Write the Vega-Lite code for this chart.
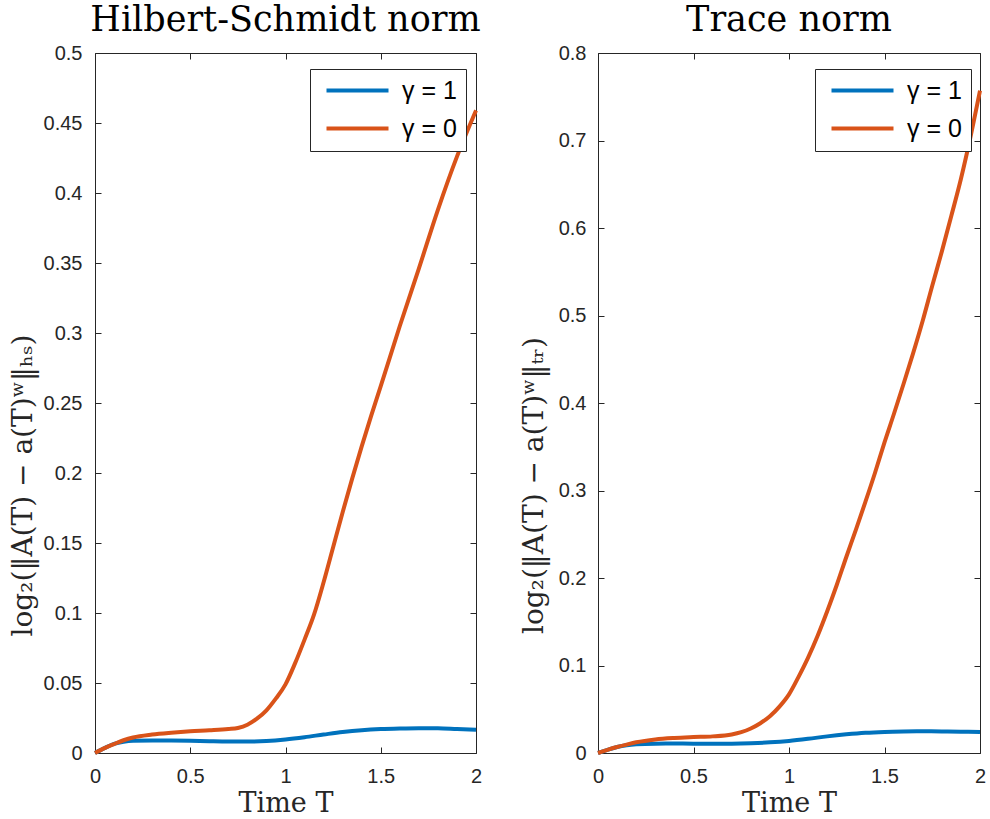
{
  "$schema": "https://vega.github.io/schema/vega-lite/v6.json",
  "background": "white",
  "padding": {"left": 8, "top": 2, "right": 5, "bottom": 2},
  "bounds": "flush",
  "spacing": 122,
  "datasets": {
    "curves": [
      {"p": "HS", "g": "γ = 1", "T": 0, "v": 0},
      {"p": "HS", "g": "γ = 1", "T": 0.05, "v": 0.0035},
      {"p": "HS", "g": "γ = 1", "T": 0.1, "v": 0.0065},
      {"p": "HS", "g": "γ = 1", "T": 0.15, "v": 0.0081},
      {"p": "HS", "g": "γ = 1", "T": 0.2, "v": 0.0088},
      {"p": "HS", "g": "γ = 1", "T": 0.3, "v": 0.009},
      {"p": "HS", "g": "γ = 1", "T": 0.4, "v": 0.0089},
      {"p": "HS", "g": "γ = 1", "T": 0.5, "v": 0.0087},
      {"p": "HS", "g": "γ = 1", "T": 0.6, "v": 0.0084},
      {"p": "HS", "g": "γ = 1", "T": 0.7, "v": 0.0082},
      {"p": "HS", "g": "γ = 1", "T": 0.8, "v": 0.0082},
      {"p": "HS", "g": "γ = 1", "T": 0.9, "v": 0.0086},
      {"p": "HS", "g": "γ = 1", "T": 1.0, "v": 0.0097},
      {"p": "HS", "g": "γ = 1", "T": 1.1, "v": 0.0113},
      {"p": "HS", "g": "γ = 1", "T": 1.2, "v": 0.0132},
      {"p": "HS", "g": "γ = 1", "T": 1.3, "v": 0.015},
      {"p": "HS", "g": "γ = 1", "T": 1.4, "v": 0.0163},
      {"p": "HS", "g": "γ = 1", "T": 1.5, "v": 0.0171},
      {"p": "HS", "g": "γ = 1", "T": 1.6, "v": 0.0175},
      {"p": "HS", "g": "γ = 1", "T": 1.7, "v": 0.0177},
      {"p": "HS", "g": "γ = 1", "T": 1.8, "v": 0.0176},
      {"p": "HS", "g": "γ = 1", "T": 1.9, "v": 0.0171},
      {"p": "HS", "g": "γ = 1", "T": 2.0, "v": 0.0166},
      {"p": "HS", "g": "γ = 0", "T": 0, "v": 0},
      {"p": "HS", "g": "γ = 0", "T": 0.05, "v": 0.0035},
      {"p": "HS", "g": "γ = 0", "T": 0.1, "v": 0.0064},
      {"p": "HS", "g": "γ = 0", "T": 0.15, "v": 0.0091},
      {"p": "HS", "g": "γ = 0", "T": 0.2, "v": 0.0111},
      {"p": "HS", "g": "γ = 0", "T": 0.3, "v": 0.0132},
      {"p": "HS", "g": "γ = 0", "T": 0.4, "v": 0.0145},
      {"p": "HS", "g": "γ = 0", "T": 0.5, "v": 0.0155},
      {"p": "HS", "g": "γ = 0", "T": 0.6, "v": 0.0162},
      {"p": "HS", "g": "γ = 0", "T": 0.7, "v": 0.0171},
      {"p": "HS", "g": "γ = 0", "T": 0.75, "v": 0.0179},
      {"p": "HS", "g": "γ = 0", "T": 0.8, "v": 0.0202},
      {"p": "HS", "g": "γ = 0", "T": 0.85, "v": 0.0245},
      {"p": "HS", "g": "γ = 0", "T": 0.9, "v": 0.0305},
      {"p": "HS", "g": "γ = 0", "T": 0.95, "v": 0.039},
      {"p": "HS", "g": "γ = 0", "T": 1.0, "v": 0.049},
      {"p": "HS", "g": "γ = 0", "T": 1.05, "v": 0.064},
      {"p": "HS", "g": "γ = 0", "T": 1.1, "v": 0.081},
      {"p": "HS", "g": "γ = 0", "T": 1.15, "v": 0.099},
      {"p": "HS", "g": "γ = 0", "T": 1.2, "v": 0.122},
      {"p": "HS", "g": "γ = 0", "T": 1.25, "v": 0.147},
      {"p": "HS", "g": "γ = 0", "T": 1.3, "v": 0.172},
      {"p": "HS", "g": "γ = 0", "T": 1.35, "v": 0.196},
      {"p": "HS", "g": "γ = 0", "T": 1.4, "v": 0.219},
      {"p": "HS", "g": "γ = 0", "T": 1.45, "v": 0.241},
      {"p": "HS", "g": "γ = 0", "T": 1.5, "v": 0.262},
      {"p": "HS", "g": "γ = 0", "T": 1.6, "v": 0.305},
      {"p": "HS", "g": "γ = 0", "T": 1.7, "v": 0.346},
      {"p": "HS", "g": "γ = 0", "T": 1.8, "v": 0.388},
      {"p": "HS", "g": "γ = 0", "T": 1.9, "v": 0.426},
      {"p": "HS", "g": "γ = 0", "T": 2.0, "v": 0.459},
      {"p": "tr", "g": "γ = 1", "T": 0, "v": 0},
      {"p": "tr", "g": "γ = 1", "T": 0.05, "v": 0.0036},
      {"p": "tr", "g": "γ = 1", "T": 0.1, "v": 0.0068},
      {"p": "tr", "g": "γ = 1", "T": 0.15, "v": 0.0089},
      {"p": "tr", "g": "γ = 1", "T": 0.2, "v": 0.01},
      {"p": "tr", "g": "γ = 1", "T": 0.3, "v": 0.0107},
      {"p": "tr", "g": "γ = 1", "T": 0.4, "v": 0.0108},
      {"p": "tr", "g": "γ = 1", "T": 0.5, "v": 0.0107},
      {"p": "tr", "g": "γ = 1", "T": 0.6, "v": 0.0106},
      {"p": "tr", "g": "γ = 1", "T": 0.7, "v": 0.0107},
      {"p": "tr", "g": "γ = 1", "T": 0.8, "v": 0.0112},
      {"p": "tr", "g": "γ = 1", "T": 0.9, "v": 0.0122},
      {"p": "tr", "g": "γ = 1", "T": 1.0, "v": 0.0138},
      {"p": "tr", "g": "γ = 1", "T": 1.1, "v": 0.0162},
      {"p": "tr", "g": "γ = 1", "T": 1.2, "v": 0.019},
      {"p": "tr", "g": "γ = 1", "T": 1.3, "v": 0.0213},
      {"p": "tr", "g": "γ = 1", "T": 1.4, "v": 0.0231},
      {"p": "tr", "g": "γ = 1", "T": 1.5, "v": 0.0241},
      {"p": "tr", "g": "γ = 1", "T": 1.6, "v": 0.0246},
      {"p": "tr", "g": "γ = 1", "T": 1.7, "v": 0.0248},
      {"p": "tr", "g": "γ = 1", "T": 1.8, "v": 0.0247},
      {"p": "tr", "g": "γ = 1", "T": 1.9, "v": 0.0244},
      {"p": "tr", "g": "γ = 1", "T": 2.0, "v": 0.024},
      {"p": "tr", "g": "γ = 0", "T": 0, "v": 0},
      {"p": "tr", "g": "γ = 0", "T": 0.05, "v": 0.0036},
      {"p": "tr", "g": "γ = 0", "T": 0.1, "v": 0.0068},
      {"p": "tr", "g": "γ = 0", "T": 0.15, "v": 0.0096},
      {"p": "tr", "g": "γ = 0", "T": 0.2, "v": 0.0122},
      {"p": "tr", "g": "γ = 0", "T": 0.3, "v": 0.0155},
      {"p": "tr", "g": "γ = 0", "T": 0.4, "v": 0.0172},
      {"p": "tr", "g": "γ = 0", "T": 0.5, "v": 0.0182},
      {"p": "tr", "g": "γ = 0", "T": 0.6, "v": 0.019},
      {"p": "tr", "g": "γ = 0", "T": 0.7, "v": 0.0212},
      {"p": "tr", "g": "γ = 0", "T": 0.75, "v": 0.0238},
      {"p": "tr", "g": "γ = 0", "T": 0.8, "v": 0.028},
      {"p": "tr", "g": "γ = 0", "T": 0.85, "v": 0.034},
      {"p": "tr", "g": "γ = 0", "T": 0.9, "v": 0.042},
      {"p": "tr", "g": "γ = 0", "T": 0.95, "v": 0.053},
      {"p": "tr", "g": "γ = 0", "T": 1.0, "v": 0.067},
      {"p": "tr", "g": "γ = 0", "T": 1.05, "v": 0.087},
      {"p": "tr", "g": "γ = 0", "T": 1.1, "v": 0.109},
      {"p": "tr", "g": "γ = 0", "T": 1.15, "v": 0.134},
      {"p": "tr", "g": "γ = 0", "T": 1.2, "v": 0.162},
      {"p": "tr", "g": "γ = 0", "T": 1.25, "v": 0.192},
      {"p": "tr", "g": "γ = 0", "T": 1.3, "v": 0.224},
      {"p": "tr", "g": "γ = 0", "T": 1.35, "v": 0.255},
      {"p": "tr", "g": "γ = 0", "T": 1.4, "v": 0.287},
      {"p": "tr", "g": "γ = 0", "T": 1.45, "v": 0.32},
      {"p": "tr", "g": "γ = 0", "T": 1.5, "v": 0.355},
      {"p": "tr", "g": "γ = 0", "T": 1.55, "v": 0.388},
      {"p": "tr", "g": "γ = 0", "T": 1.6, "v": 0.422},
      {"p": "tr", "g": "γ = 0", "T": 1.65, "v": 0.457},
      {"p": "tr", "g": "γ = 0", "T": 1.7, "v": 0.494},
      {"p": "tr", "g": "γ = 0", "T": 1.75, "v": 0.534},
      {"p": "tr", "g": "γ = 0", "T": 1.8, "v": 0.573},
      {"p": "tr", "g": "γ = 0", "T": 1.85, "v": 0.614},
      {"p": "tr", "g": "γ = 0", "T": 1.9, "v": 0.656},
      {"p": "tr", "g": "γ = 0", "T": 1.95, "v": 0.704},
      {"p": "tr", "g": "γ = 0", "T": 2.0, "v": 0.757}
    ]
  },
  "config": {
    "view": {"stroke": "#262626", "strokeWidth": 1},
    "axis": {
      "grid": false,
      "domain": false,
      "labelFont": "Liberation Sans",
      "labelFontSize": 20,
      "labelColor": "#262626",
      "labelFlush": false,
      "tickColor": "#262626",
      "tickSize": -6,
      "titleFont": "DejaVu Serif",
      "titleFontWeight": "normal",
      "titleColor": "#262626"
    },
    "title": {"font": "DejaVu Serif", "fontSize": 35, "fontWeight": "normal", "color": "black", "anchor": "middle", "offset": 5},
    "legend": {
      "orient": "none",
      "title": null,
      "strokeColor": "#262626",
      "fillColor": "white",
      "padding": 9,
      "rowPadding": 12,
      "symbolType": "M-1,0H11.4",
      "symbolSize": 100,
      "symbolStrokeWidth": 4,
      "labelOffset": 58,
      "labelFont": "Liberation Sans",
      "labelFontSize": 25,
      "labelColor": "black",
      "labelLimit": 200
    }
  },
  "resolve": {"scale": {"color": "independent"}, "legend": {"color": "independent"}},
  "hconcat": [
    {
      "title": "Hilbert-Schmidt norm",
      "width": 381,
      "height": 700,
      "data": {"name": "curves"},
      "transform": [{"filter": "datum.p === 'HS'"}],
      "resolve": {"axis": {"x": "independent", "y": "independent"}},
      "layer": [
        {
          "mark": {"type": "line", "strokeWidth": 4, "interpolate": "monotone"},
          "encoding": {
            "x": {"field": "T", "type": "quantitative", "scale": {"domain": [0, 2], "nice": false, "zero": false},
                  "axis": {"orient": "bottom", "values": [0, 0.5, 1, 1.5, 2], "format": "~g", "labelPadding": 19, "title": "Time T", "titleFontSize": 27, "titlePadding": 4}},
            "y": {"field": "v", "type": "quantitative", "scale": {"domain": [0, 0.5], "nice": false},
                  "axis": {"orient": "left", "values": [0, 0.05, 0.1, 0.15, 0.2, 0.25, 0.3, 0.35, 0.4, 0.45, 0.5], "format": "~g", "labelPadding": 19, "title": "log₂(‖A(T) − a(T)ʷ‖ₕₛ)", "titleFontSize": 28, "titlePadding": 6, "titleY": 432}},
            "color": {"field": "g", "type": "nominal", "scale": {"domain": ["γ = 1", "γ = 0"], "range": ["#0072BD", "#D95319"]},
                      "legend": {"legendX": 215, "legendY": 16}}
          }
        },
        {
          "mark": {"type": "line", "strokeWidth": 4, "interpolate": "monotone", "opacity": 0},
          "encoding": {
            "x": {"field": "T", "type": "quantitative", "axis": {"orient": "top", "values": [0, 0.5, 1, 1.5, 2], "labels": false, "title": null}},
            "y": {"field": "v", "type": "quantitative", "axis": {"orient": "right", "values": [0, 0.05, 0.1, 0.15, 0.2, 0.25, 0.3, 0.35, 0.4, 0.45, 0.5], "labels": false, "title": null}},
            "detail": {"field": "g"}
          }
        }
      ]
    },
    {
      "title": "Trace norm",
      "width": 382,
      "height": 700,
      "data": {"name": "curves"},
      "transform": [{"filter": "datum.p === 'tr'"}],
      "resolve": {"axis": {"x": "independent", "y": "independent"}},
      "layer": [
        {
          "mark": {"type": "line", "strokeWidth": 4, "interpolate": "monotone"},
          "encoding": {
            "x": {"field": "T", "type": "quantitative", "scale": {"domain": [0, 2], "nice": false, "zero": false},
                  "axis": {"orient": "bottom", "values": [0, 0.5, 1, 1.5, 2], "format": "~g", "labelPadding": 19, "title": "Time T", "titleFontSize": 27, "titlePadding": 4}},
            "y": {"field": "v", "type": "quantitative", "scale": {"domain": [0, 0.8], "nice": false},
                  "axis": {"orient": "left", "values": [0, 0.1, 0.2, 0.3, 0.4, 0.5, 0.6, 0.7, 0.8], "format": "~g", "labelPadding": 18, "title": "log₂(‖A(T) − a(T)ʷ‖ₜᵣ)", "titleFontSize": 28, "titlePadding": 10, "titleY": 432}},
            "color": {"field": "g", "type": "nominal", "scale": {"domain": ["γ = 1", "γ = 0"], "range": ["#0072BD", "#D95319"]},
                      "legend": {"legendX": 217, "legendY": 16}}
          }
        },
        {
          "mark": {"type": "line", "strokeWidth": 4, "interpolate": "monotone", "opacity": 0},
          "encoding": {
            "x": {"field": "T", "type": "quantitative", "axis": {"orient": "top", "values": [0, 0.5, 1, 1.5, 2], "labels": false, "title": null}},
            "y": {"field": "v", "type": "quantitative", "axis": {"orient": "right", "values": [0, 0.1, 0.2, 0.3, 0.4, 0.5, 0.6, 0.7, 0.8], "labels": false, "title": null}},
            "detail": {"field": "g"}
          }
        }
      ]
    }
  ]
}
